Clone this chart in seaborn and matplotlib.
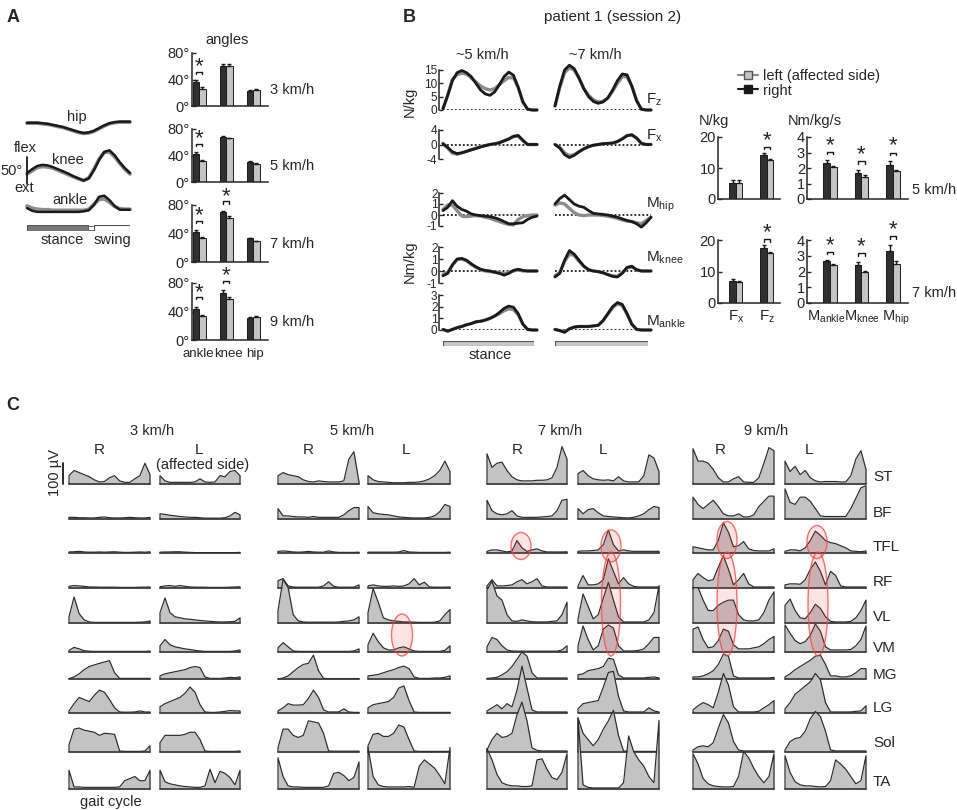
import numpy as np
import pandas as pd
import matplotlib
matplotlib.use("Agg")
import matplotlib.pyplot as plt
import matplotlib.transforms as mtransforms
import seaborn as sns
from matplotlib.patches import Ellipse
from matplotlib.lines import Line2D

W, H = 957, 810

# ----------------------------------------------------
# Panel A data: joint angle traces (deg, 0..100 % gait cycle, step 5 %)
# ----------------------------------------------------
cycle_pct = np.arange(0, 101, 5)
hip_right = [24, 24, 24, 23, 22, 20, 18, 16, 13, 10, 7, 5, 6, 9, 14, 19, 23, 25, 26, 26, 26]
hip_left = [23, 23, 23, 22, 21, 19, 17, 15, 12, 9, 6, 4, 5, 8, 13, 18, 22, 24, 25, 25, 25]
knee_right = [20, 27, 33, 35, 34, 31, 27, 23, 19, 14, 10, 6, 10, 25, 44, 59, 62, 53, 40, 29, 20]
knee_left = [18, 24, 30, 32, 31, 29, 25, 21, 17, 13, 9, 6, 11, 27, 46, 58, 59, 50, 38, 27, 18]
ankle_right = [7, 2, 0, 0, 0, 0, 0, 0, 0, 0, 0, 1, 3, 13, 28, 30, 22, 11, 4, 4, 4]
ankle_left = [11, 7, 5, 4, 4, 3, 3, 3, 3, 3, 3, 3, 5, 14, 23, 24, 18, 10, 6, 5, 5]
stance_end_pct = 59
swing_start_pct = 65

# angle ranges (deg) per speed
angle_speeds = ["3 km/h", "5 km/h", "7 km/h", "9 km/h"]
angle_joints = ["ankle", "knee", "hip"]
angle_right = [[36, 61, 23], [42, 68, 30], [42, 70, 33], [44, 66, 31]]
angle_left = [[25, 61, 24], [31, 66, 27], [33, 62, 29], [33, 58, 32]]
angle_right_err = [[3, 2, 1], [3, 2, 1], [3, 2, 1], [3, 4, 1]]
angle_left_err = [[3, 2, 1], [2, 1, 1], [2, 2, 1], [2, 3, 1]]
angle_sig = [[True, False, False], [True, False, False], [True, True, False], [True, True, False]]

# ----------------------------------------------------
# Panel B data: ground reaction forces and joint moments (0..100 % window)
# ----------------------------------------------------
kin_speeds = ["~5 km/h", "~7 km/h"]
fz_right = [[0.5, 5.5, 11, 14, 14.8, 14, 12.5, 10, 7.5, 6, 5.5, 6.8, 9.5, 12.5, 14.2, 13, 8.5, 3, 0.3, 0, 0],
            [1.5, 9, 15, 16.8, 15.5, 12, 8, 5, 3.2, 2.5, 3, 4.5, 7.5, 11, 13.5, 13.2, 9, 3.5, 0.3, 0, 0]]
fz_left = [[0.5, 5.5, 11.5, 13.3, 13.8, 13.5, 12, 10.5, 9, 8, 7.5, 8, 9.5, 11, 12.2, 12, 8.5, 3, 0.3, 0, 0],
           [1.5, 8.5, 14, 15.8, 15, 12, 8, 5.5, 3.8, 3, 3.3, 4.5, 7, 10, 12.5, 12.5, 9, 3.5, 0.3, 0, 0]]
fx_right = [[0.2, -0.8, -2, -2.5, -2.3, -1.9, -1.5, -1.1, -0.7, -0.3, 0, 0.2, 0.5, 1, 1.5, 2.2, 2.5, 1.2, 0, 0, 0],
            [0, -1, -2.8, -3.6, -3, -2, -1.2, -0.6, -0.2, 0, 0.2, 0.3, 0.4, 0.8, 1.5, 2.4, 2.7, 1.8, 0.3, 0, 0]]
fx_left = [[0.3, -1, -2.4, -2.7, -2.3, -1.9, -1.4, -1.0, -0.6, -0.3, 0, 0.2, 0.5, 1, 1.6, 2.3, 2.3, 1, 0, 0, 0],
           [0, -0.8, -2.3, -3.1, -2.8, -2, -1.2, -0.6, -0.2, 0, 0.2, 0.3, 0.4, 0.8, 1.6, 2.5, 2.6, 1.7, 0.3, 0, 0]]
mhip_right = [[0.4, 0.7, 1.3, 0.8, 0.5, 0.35, 0.1, 0, -0.05, -0.1, -0.15, -0.25, -0.4, -0.6, -0.8, -0.8, -0.75, -0.7, -0.4, -0.2, -0.1],
              [1, 1.5, 1.8, 1.4, 1.0, 0.8, 0.7, 0.4, 0.15, 0.1, 0.05, 0, -0.1, -0.2, -0.35, -0.5, -0.6, -0.8, -1.1, -0.7, -0.2]]
mhip_left = [[0.5, 0.9, 0.9, 0.4, -0.1, -0.15, -0.1, -0.05, -0.1, -0.2, -0.3, -0.45, -0.6, -0.75, -0.85, -0.9, -0.4, -0.15, -0.05, 0, 0],
             [0.9, 1.1, 1.0, 0.6, 0.2, 0, -0.05, 0, 0, 0, -0.05, -0.1, -0.2, -0.3, -0.45, -0.55, -0.6, -0.7, -0.8, -0.5, -0.2]]
mknee_right = [[-0.4, -0.2, 0.5, 1.0, 1.05, 0.9, 0.6, 0.35, 0.15, 0.05, 0, -0.1, -0.2, -0.35, -0.2, 0.05, 0.15, 0.05, 0, 0, 0],
               [-0.5, -0.2, 0.9, 1.7, 1.4, 0.9, 0.4, 0.1, 0, -0.05, -0.15, -0.3, -0.45, -0.5, -0.2, 0.3, 0.4, 0.1, 0, 0, 0]]
mknee_left = [[-0.3, -0.1, 0.5, 0.95, 1.0, 0.85, 0.55, 0.3, 0.1, 0, -0.05, -0.1, -0.15, -0.25, -0.1, 0.0, 0.1, 0.0, 0, 0, 0],
              [-0.4, -0.1, 0.8, 1.4, 1.3, 0.8, 0.4, 0.1, 0, -0.05, -0.15, -0.3, -0.4, -0.45, -0.15, 0.25, 0.35, 0.1, 0, 0, 0]]
mankle_right = [[0.05, -0.1, 0.05, 0.2, 0.3, 0.45, 0.55, 0.7, 0.75, 0.85, 1.0, 1.2, 1.5, 1.85, 2.05, 1.95, 1.4, 0.5, 0.05, 0, 0],
                [0.05, -0.05, -0.2, 0.1, 0.25, 0.3, 0.3, 0.3, 0.35, 0.4, 0.8, 1.4, 2.0, 2.35, 2.2, 1.4, 0.5, 0.05, 0, 0, 0]]
mankle_left = [[0.05, -0.1, 0.05, 0.2, 0.3, 0.45, 0.55, 0.7, 0.75, 0.85, 1.0, 1.2, 1.4, 1.65, 1.8, 1.75, 1.3, 0.5, 0.05, 0, 0],
               [0.05, -0.05, -0.15, 0.1, 0.25, 0.3, 0.3, 0.3, 0.35, 0.4, 0.8, 1.35, 1.9, 2.25, 2.1, 1.4, 0.5, 0.05, 0, 0, 0]]

bar_speeds = ["5 km/h", "7 km/h"]
force_names = ["Fx", "Fz"]
force_right = [[5.2, 14.3], [7.1, 17.5]]
force_left = [[5.2, 12.5], [6.7, 15.8]]
force_right_err = [[0.8, 0.5], [0.6, 0.8]]
force_left_err = [[0.8, 0.3], [0.3, 0.3]]
force_sig = [[False, True], [False, True]]
moment_names = ["ankle", "knee", "hip"]
moment_right = [[2.35, 1.7, 2.2], [2.65, 2.4, 3.3]]
moment_left = [[2.05, 1.45, 1.8], [2.4, 2.0, 2.45]]
moment_right_err = [[0.15, 0.2, 0.25], [0.05, 0.2, 0.4]]
moment_left_err = [[0.05, 0.1, 0.1], [0.1, 0.05, 0.2]]
moment_sig = [[True, True, True], [True, True, True]]

# ----------------------------------------------------
# Panel C data: EMG envelopes (uV), 17 samples over the gait cycle
# order: ST, BF, TFL, RF, VL, VM, MG, LG, Sol, TA
# ----------------------------------------------------
muscles = ["ST", "BF", "TFL", "RF", "VL", "VM", "MG", "LG", "Sol", "TA"]
emg_speeds = ["3 km/h", "5 km/h", "7 km/h", "9 km/h"]

emg_3_right = [
    [40, 65, 55, 45, 35, 20, 10, 12, 30, 40, 15, 8, 8, 25, 40, 100, 45],
    [8, 8, 6, 6, 5, 5, 8, 10, 6, 5, 5, 6, 8, 6, 5, 5, 8],
    [5, 6, 8, 5, 4, 4, 5, 4, 5, 6, 4, 3, 3, 4, 5, 4, 6],
    [8, 12, 10, 8, 5, 5, 4, 4, 4, 4, 3, 3, 3, 3, 4, 4, 5],
    [30, 125, 45, 15, 5, 3, 3, 3, 3, 3, 3, 3, 3, 3, 4, 5, 10],
    [8, 22, 15, 6, 4, 3, 3, 3, 3, 3, 3, 3, 3, 3, 3, 3, 5],
    [2, 10, 25, 45, 60, 68, 75, 82, 88, 30, 3, 3, 3, 3, 3, 3, 3],
    [10, 45, 75, 65, 55, 85, 110, 100, 65, 25, 5, 4, 4, 5, 10, 5, 5],
    [35, 110, 115, 105, 100, 95, 80, 90, 88, 85, 5, 3, 3, 3, 3, 5, 30],
    [90, 10, 10, 8, 8, 8, 8, 8, 8, 8, 10, 40, 50, 60, 40, 40, 90],
]
emg_3_left = [
    [40, 15, 8, 8, 8, 8, 8, 10, 25, 10, 8, 10, 40, 35, 60, 65, 40],
    [25, 22, 18, 15, 12, 10, 8, 8, 6, 4, 4, 4, 4, 6, 15, 32, 20],
    [4, 5, 5, 6, 6, 4, 3, 2, 2, 2, 2, 2, 2, 2, 2, 2, 3],
    [6, 10, 12, 8, 12, 8, 5, 4, 4, 4, 3, 3, 3, 3, 4, 5, 6],
    [50, 120, 50, 30, 25, 20, 18, 15, 12, 10, 8, 6, 5, 5, 6, 8, 25],
    [30, 60, 35, 25, 20, 15, 12, 8, 5, 3, 3, 3, 3, 3, 3, 5, 10],
    [15, 25, 30, 35, 40, 45, 55, 60, 55, 10, 3, 3, 3, 5, 8, 6, 10],
    [30, 45, 55, 65, 75, 95, 125, 100, 40, 5, 3, 3, 5, 8, 12, 10, 10],
    [45, 80, 80, 80, 80, 85, 95, 95, 60, 5, 3, 3, 3, 3, 3, 3, 5],
    [90, 35, 25, 20, 15, 12, 10, 8, 8, 15, 95, 30, 85, 75, 55, 20, 90],
]
emg_5_right = [
    [40, 55, 45, 40, 35, 20, 12, 10, 15, 12, 10, 10, 10, 15, 120, 155, 10],
    [50, 15, 15, 12, 10, 10, 8, 12, 8, 8, 8, 8, 8, 20, 40, 55, 55],
    [8, 10, 8, 5, 4, 5, 8, 5, 4, 4, 10, 5, 3, 3, 3, 3, 4],
    [35, 45, 10, 5, 4, 4, 4, 4, 4, 10, 30, 8, 4, 4, 4, 4, 15],
    [60, 210, 170, 40, 10, 5, 4, 4, 4, 4, 4, 4, 5, 8, 10, 15, 30],
    [20, 45, 25, 5, 3, 3, 3, 3, 3, 3, 3, 3, 3, 3, 3, 5, 15],
    [0, 5, 15, 35, 55, 70, 75, 115, 40, 3, 2, 2, 2, 2, 2, 2, 2],
    [10, 25, 45, 38, 38, 40, 70, 110, 75, 15, 5, 5, 5, 20, 5, 3, 3],
    [20, 110, 110, 80, 70, 80, 150, 145, 140, 90, 5, 4, 4, 4, 4, 4, 4],
    [150, 60, 15, 10, 10, 8, 8, 8, 8, 8, 15, 75, 80, 65, 40, 55, 130],
]
emg_5_left = [
    [40, 20, 12, 10, 8, 6, 6, 6, 8, 8, 10, 15, 25, 40, 65, 110, 60],
    [60, 30, 25, 22, 20, 15, 10, 8, 6, 5, 5, 5, 8, 15, 35, 70, 60],
    [4, 4, 4, 4, 4, 4, 5, 12, 5, 4, 3, 3, 3, 3, 3, 3, 4],
    [10, 15, 10, 8, 8, 10, 8, 10, 20, 45, 15, 28, 5, 4, 4, 4, 5],
    [50, 165, 100, 25, 15, 10, 8, 5, 5, 4, 3, 3, 3, 4, 10, 40, 65],
    [35, 90, 50, 20, 10, 10, 20, 25, 15, 5, 3, 3, 3, 3, 3, 8, 30],
    [15, 18, 22, 30, 38, 45, 55, 62, 50, 10, 3, 3, 3, 5, 5, 8, 15],
    [25, 40, 45, 50, 55, 75, 120, 130, 60, 5, 3, 3, 3, 3, 3, 3, 3],
    [30, 85, 90, 75, 75, 90, 130, 120, 60, 5, 3, 3, 3, 3, 3, 3, 3],
    [200, 60, 20, 12, 10, 10, 10, 10, 12, 8, 110, 140, 120, 100, 65, 25, 200],
]
emg_7_right = [
    [145, 80, 100, 105, 65, 35, 20, 15, 15, 15, 18, 18, 20, 30, 80, 180, 120],
    [90, 40, 25, 20, 25, 40, 15, 8, 8, 8, 8, 10, 12, 15, 40, 90, 95],
    [8, 15, 15, 10, 5, 10, 60, 25, 8, 15, 20, 10, 5, 5, 5, 5, 6],
    [10, 40, 10, 10, 12, 15, 30, 40, 20, 30, 45, 10, 5, 5, 5, 5, 5],
    [160, 200, 130, 110, 40, 10, 8, 15, 10, 6, 5, 5, 5, 8, 10, 40, 100],
    [25, 70, 60, 30, 10, 5, 4, 4, 4, 4, 4, 4, 4, 4, 4, 10, 30],
    [3, 5, 8, 20, 35, 60, 95, 130, 110, 30, 5, 5, 5, 5, 5, 5, 5],
    [10, 25, 40, 20, 45, 30, 110, 225, 120, 15, 5, 5, 5, 5, 5, 5, 5],
    [10, 60, 90, 70, 75, 90, 180, 240, 150, 20, 8, 5, 5, 5, 5, 5, 5],
    [195, 140, 70, 30, 20, 15, 15, 12, 12, 15, 140, 145, 95, 55, 45, 80, 170],
]
emg_7_left = [
    [50, 65, 40, 25, 20, 18, 20, 15, 35, 15, 10, 10, 10, 40, 140, 125, 60],
    [50, 25, 45, 50, 30, 15, 12, 10, 8, 6, 5, 8, 15, 25, 45, 60, 55],
    [8, 10, 10, 12, 15, 40, 110, 40, 10, 15, 10, 8, 8, 8, 8, 8, 8],
    [10, 60, 15, 15, 20, 40, 140, 80, 20, 50, 20, 8, 5, 5, 5, 5, 5],
    [20, 140, 80, 20, 40, 120, 195, 110, 30, 5, 5, 5, 5, 5, 15, 50, 180],
    [30, 125, 60, 10, 30, 110, 130, 115, 30, 5, 5, 5, 8, 15, 40, 70, 70],
    [20, 25, 40, 45, 50, 60, 100, 95, 20, 5, 5, 5, 5, 5, 8, 10, 5],
    [20, 45, 50, 55, 60, 125, 195, 200, 80, 10, 5, 5, 5, 5, 25, 10, 5],
    [165, 90, 60, 30, 60, 110, 150, 200, 80, 5, 3, 3, 3, 3, 3, 3, 3],
    [340, 20, 8, 5, 5, 5, 5, 5, 5, 30, 255, 180, 140, 110, 60, 30, 330],
]
emg_9_right = [
    [170, 110, 110, 100, 70, 30, 10, 10, 25, 35, 10, 8, 8, 30, 100, 175, 160],
    [105, 70, 50, 70, 90, 60, 25, 15, 15, 25, 10, 10, 20, 60, 85, 110, 110],
    [30, 25, 20, 15, 15, 60, 145, 100, 30, 35, 55, 20, 12, 10, 10, 10, 20],
    [40, 70, 50, 35, 40, 100, 155, 90, 15, 40, 70, 20, 5, 5, 5, 5, 5],
    [170, 170, 110, 60, 60, 85, 100, 110, 110, 40, 15, 10, 10, 15, 50, 110, 150],
    [110, 120, 60, 20, 25, 55, 110, 100, 35, 15, 15, 15, 20, 25, 40, 60, 75],
    [10, 10, 15, 25, 40, 70, 120, 110, 15, 5, 5, 5, 5, 5, 5, 5, 8],
    [15, 35, 50, 40, 25, 100, 190, 135, 30, 5, 5, 5, 5, 8, 25, 40, 60],
    [10, 25, 30, 25, 45, 115, 180, 140, 50, 10, 5, 5, 5, 5, 5, 5, 5],
    [170, 120, 50, 25, 15, 12, 10, 10, 12, 60, 180, 150, 100, 60, 30, 60, 170],
]
emg_9_left = [
    [110, 60, 85, 45, 65, 30, 15, 10, 12, 12, 12, 10, 10, 40, 120, 160, 70],
    [145, 80, 70, 105, 105, 85, 50, 15, 12, 12, 12, 12, 12, 50, 100, 150, 160],
    [8, 15, 15, 10, 25, 60, 105, 85, 60, 50, 45, 35, 25, 10, 8, 6, 10],
    [15, 20, 20, 18, 40, 90, 125, 80, 15, 80, 60, 10, 5, 5, 5, 5, 5],
    [85, 115, 60, 25, 20, 50, 90, 70, 30, 8, 5, 5, 5, 8, 25, 60, 110],
    [130, 90, 55, 40, 50, 80, 135, 100, 25, 10, 10, 10, 10, 12, 30, 60, 125],
    [10, 25, 45, 60, 75, 90, 110, 115, 70, 15, 15, 10, 10, 15, 30, 50, 50],
    [20, 50, 90, 110, 130, 150, 190, 160, 50, 5, 5, 5, 5, 5, 8, 10, 35],
    [10, 50, 65, 70, 100, 160, 195, 170, 100, 10, 5, 5, 5, 5, 5, 5, 5],
    [160, 80, 35, 20, 15, 15, 12, 10, 12, 40, 140, 120, 95, 60, 25, 40, 160],
]

# ----------------------------------------------------
# Styling / layout (pixels in a 957 x 810 canvas)
# ----------------------------------------------------
DARK = "#303030"
LIGHT = "#c4c4c4"
TRACE_GRAY = "#8c8c8c"
EMG_FILL = "#c3c3c3"

sns.set_theme(style="ticks")
plt.rcParams["font.family"] = ["Liberation Sans", "DejaVu Sans"]
plt.rcParams["mathtext.fontset"] = "custom"
plt.rcParams["mathtext.rm"] = "Liberation Sans"
plt.rcParams["mathtext.it"] = "Liberation Sans:italic"
plt.rcParams["axes.linewidth"] = 1.1
plt.rcParams["axes.unicode_minus"] = False

fig = plt.figure(figsize=(W / 100, H / 100), dpi=100)


def px_axes(x0, y0, x1, y1):
    return fig.add_axes([x0 / W, 1 - y1 / H, (x1 - x0) / W, (y1 - y0) / H])


def ftext(x, y, s, **kw):
    kw.setdefault("fontsize", 10.5)
    kw.setdefault("ha", "center")
    kw.setdefault("va", "center")
    fig.text(x / W, 1 - y / H, s, **kw)


def nudge_xlabels(ax, shifts_px):
    # shift individual x tick labels sideways so crowded labels do not collide
    for lbl, dx in zip(ax.get_xticklabels(), shifts_px):
        lbl.set_transform(lbl.get_transform()
                          + mtransforms.ScaledTranslation(dx / 100, 0, fig.dpi_scale_trans))


def paired_bars(ax, cats, right, left, right_err, left_err, sig, width, pad, tick, star_gap):
    n = len(cats)
    df = pd.DataFrame({"cat": cats * 2,
                       "side": ["right"] * n + ["left"] * n,
                       "value": list(right) + list(left)})
    sns.barplot(data=df, x="cat", y="value", hue="side", order=cats,
                hue_order=["right", "left"], palette={"right": DARK, "left": LIGHT},
                edgecolor="k", linewidth=0.7, width=width, legend=False, ax=ax)
    centers = sorted(p.get_x() + p.get_width() / 2 for p in ax.patches)
    xr, xl = centers[0::2], centers[1::2]
    ax.errorbar(xr, right, yerr=[np.zeros(n), right_err], fmt="none", ecolor="k",
                elinewidth=1.0, capsize=1.5, capthick=1.0)
    ax.errorbar(xl, left, yerr=[np.zeros(n), left_err], fmt="none", ecolor="k",
                elinewidth=1.0, capsize=1.5, capthick=1.0)
    for i in range(n):
        if sig[i]:
            yb = max(right[i] + right_err[i], left[i] + left_err[i]) + pad
            ax.plot([xr[i], xr[i], xl[i], xl[i]], [yb - tick, yb, yb, yb - tick],
                    color="k", lw=1.0, clip_on=False)
            ax.text((xr[i] + xl[i]) / 2, yb + star_gap, "*", ha="center", va="center",
                    fontsize=16, clip_on=False)
    ax.set_xlabel("")
    ax.set_ylabel("")
    sns.despine(ax=ax)
    ax.tick_params(axis="y", direction="in", length=3, width=1, labelsize=10.5, pad=1.5)
    ax.tick_params(axis="x", length=0, labelsize=10, pad=4)
    ax.set_facecolor("none")


# ----------------------------------------------------
# Panel A
# ----------------------------------------------------
ftext(13, 18, "A", fontsize=13, fontweight="bold")

DEG_PER_PX = 1.85
ax_k = px_axes(27, 105, 130, 220)
ax_k.set_xlim(0, 100)
ax_k.set_ylim(0, 115 * DEG_PER_PX)
ax_k.axis("off")
for right, left, offset in [(hip_right, hip_left, 156), (knee_right, knee_left, 67),
                            (ankle_right, ankle_left, 15)]:
    ax_k.plot(cycle_pct, np.array(left) + offset, color=TRACE_GRAY, lw=2.6, clip_on=False)
    ax_k.plot(cycle_pct, np.array(right) + offset, color="k", lw=1.8, clip_on=False)
ax_k.plot([0, 0], [67, 117], color="k", lw=1.3, clip_on=False)   # 50 deg scale

ftext(77, 117, "hip")
ftext(68, 160, "knee")
ftext(70, 200, "ankle")
ftext(25, 148, "flex")
ftext(12, 171, "50°")
ftext(24, 188, "ext")

ax_ph = px_axes(27, 225, 130, 231)
ax_ph.barh(0, stance_end_pct, left=0, height=1, color="#7a7a7a", edgecolor="#555", lw=0.8)
ax_ph.barh(0, swing_start_pct - stance_end_pct, left=stance_end_pct, height=0.6,
           color="white", edgecolor="#555", lw=0.6)
ax_ph.barh(0, 100 - swing_start_pct, left=swing_start_pct, height=1, color="white",
           edgecolor="#555", lw=0.8)
ax_ph.set_xlim(0, 100)
ax_ph.set_ylim(-0.5, 0.5)
ax_ph.axis("off")
ftext(62, 240, "stance")
ftext(112, 240, "swing")

ftext(227, 40, "angles")
angle_rows = [(53, 106), (129, 182), (205, 262), (283, 340)]
for k, (top, bottom) in enumerate(angle_rows):
    ax = px_axes(192, top, 268, bottom)
    paired_bars(ax, angle_joints, angle_right[k], angle_left[k], angle_right_err[k],
                angle_left_err[k], angle_sig[k], width=0.48, pad=13, tick=3, star_gap=7)
    ax.set_xlim(-0.26, 2.55)
    ax.set_ylim(0, 80)
    ax.set_yticks([0, 40, 80])
    ax.set_yticklabels(["0°", "40°", "80°"])
    if k < 3:
        ax.set_xticklabels([])
    else:
        ax.tick_params(axis="x", labelsize=9.5, pad=6)
        nudge_xlabels(ax, [-1, 2, 2])
    ftext(292, (top + bottom) / 2 + 10, angle_speeds[k])

# ----------------------------------------------------
# Panel B
# ----------------------------------------------------
ftext(409, 18, "B", fontsize=13, fontweight="bold")
ftext(613, 17, "patient 1 (session 2)", fontsize=11)

trace_cols = [(443, 537), (555, 651)]
trace_rows = [
    (fz_right, fz_left, (70, 110), (0, 15), [0, 5, 10, 15]),
    (fx_right, fx_left, (130, 159), (-4, 4), [-4, 0, 4]),
    (mhip_right, mhip_left, (193, 226), (-1, 2), [-1, 0, 1, 2]),
    (mknee_right, mknee_left, (247, 283), (-1, 2), [-1, 0, 1, 2]),
    (mankle_right, mankle_left, (295, 330), (0, 3), [0, 1, 2, 3]),
]
for c, (x0, x1) in enumerate(trace_cols):
    ftext((x0 + x1) / 2 - 8, 55, kin_speeds[c])
    for right, left, (top, bottom), lim, ticks in trace_rows:
        ax = px_axes(x0, top, x1, bottom)
        ax.axhline(0, color="k", ls=(0, (1, 1.2)), lw=1.3)
        ax.plot(cycle_pct, left[c], color=TRACE_GRAY, lw=2.4, clip_on=False)
        ax.plot(cycle_pct, right[c], color="k", lw=2.0, clip_on=False)
        ax.set_xlim(0, 100)
        ax.set_ylim(*lim)
        ax.set_facecolor("none")
        for s in ["top", "right", "bottom"]:
            ax.spines[s].set_visible(False)
        ax.set_xticks([])
        if c == 0:
            ax.set_yticks(ticks)
            ax.spines["left"].set_position(("outward", 3))
            ax.tick_params(axis="y", direction="in", length=3, width=1, labelsize=8.5, pad=1)
        else:
            ax.spines["left"].set_visible(False)
            ax.set_yticks([])
    ax_st = px_axes(x0, 341, x1 - 3, 346)
    ax_st.barh(0, 100, height=1, color="#c8c8c8", edgecolor="#555", lw=0.8)
    ax_st.set_xlim(0, 100)
    ax_st.set_ylim(-0.5, 0.5)
    ax_st.axis("off")
ftext(490, 355, "stance")
ftext(410, 102, "N/kg", rotation=90)
ftext(410, 262, "Nm/kg", rotation=90)
for lab, y in [(r"F$_\mathrm{z}$", 100), (r"F$_\mathrm{x}$", 136), (r"M$_\mathrm{hip}$", 205),
               (r"M$_\mathrm{knee}$", 258), (r"M$_\mathrm{ankle}$", 322)]:
    ftext(646, y, lab, ha="left", fontsize=11)

handles = [Line2D([], [], color="#888", lw=1.5, marker="s", ms=6, mfc=LIGHT, mec="#555"),
           Line2D([], [], color="k", lw=1.5, marker="s", ms=6, mfc="k", mec="k")]
fig.legend(handles, ["left (affected side)", "right"], loc="upper left",
           bbox_to_anchor=(732 / W, 1 - 63 / H), frameon=False, fontsize=10.5,
           handlelength=1.4, handletextpad=0.3, labelspacing=0.05, borderaxespad=0)

ftext(714, 121, "N/kg")
ftext(815, 121, "Nm/kg/s")
bar_rows = [(137, 199), (240, 303)]
for k, (top, bottom) in enumerate(bar_rows):
    ax = px_axes(718, top, 780, bottom)
    paired_bars(ax, force_names, force_right[k], force_left[k], force_right_err[k],
                force_left_err[k], force_sig[k], width=0.42, pad=2.0, tick=0.8, star_gap=2.0)
    ax.set_xlim(-0.58, 1.42)
    ax.set_ylim(0, 20)
    ax.set_yticks([0, 10, 20])
    if k == 0:
        ax.set_xticklabels([])
    else:
        ax.set_xticklabels([r"F$_\mathrm{x}$", r"F$_\mathrm{z}$"], fontsize=11)

    ax = px_axes(807, top, 908, bottom)
    paired_bars(ax, moment_names, moment_right[k], moment_left[k], moment_right_err[k],
                moment_left_err[k], moment_sig[k], width=0.42, pad=0.55, tick=0.16, star_gap=0.42)
    ax.set_xlim(-0.73, 2.48)
    ax.set_ylim(0, 4)
    ax.set_yticks([0, 1, 2, 3, 4])
    if k == 0:
        ax.set_xticklabels([])
    else:
        ax.set_xticklabels([r"M$_\mathrm{ankle}$", r"M$_\mathrm{knee}$", r"M$_\mathrm{hip}$"],
                           fontsize=10.5)
        nudge_xlabels(ax, [-4, 1, 3])
    ftext(912, (top + bottom) / 2 + 22, bar_speeds[k], ha="left")

# ----------------------------------------------------
# Panel C
# ----------------------------------------------------
ftext(13, 405, "C", fontsize=13, fontweight="bold")

UV100_PX = 20.8
emg_grid = np.linspace(0, 1, 17)
emg_cols = [
    (emg_3_right, 69, 150), (emg_3_left, 160, 240),
    (emg_5_right, 278, 359), (emg_5_left, 368, 450),
    (emg_7_right, 487, 567), (emg_7_left, 578, 659),
    (emg_9_right, 693, 774), (emg_9_left, 785, 866),
]
baselines = [484, 519, 553, 588, 623, 652, 679, 713, 752, 789]
label_y = [477, 513, 547, 582, 617, 648, 675, 708, 743, 782]

for ci, (data, x0, x1) in enumerate(emg_cols):
    for mi, base in enumerate(baselines):
        ax = px_axes(x0, base - UV100_PX, x1, base)
        vals = np.array(data[mi], dtype=float)
        ax.fill_between(emg_grid, vals, 0, color=EMG_FILL, lw=0, clip_on=False)
        ax.plot(np.r_[0, emg_grid, 1], np.r_[0, vals, 0], color="#2a2a2a", lw=0.85,
                clip_on=False)
        ax.plot([0, 1], [0, 0], color="#333", lw=1.2, clip_on=False)
        ax.set_xlim(0, 1)
        ax.set_ylim(0, 100)
        ax.axis("off")
        if ci == 0 and mi == 0:
            ax.plot([-0.07, -0.07], [0, 100], color="k", lw=1.3, clip_on=False)

for lab, y in zip(muscles, label_y):
    ftext(873, y, lab, ha="left", fontsize=11)
for lab, x in zip(emg_speeds, [152, 352, 560, 766]):
    ftext(x, 431, lab)
for lab, x in zip(["R", "L"] * 4, [99, 199, 308, 406, 517, 603, 720, 809]):
    ftext(x, 450, lab, fontsize=11)
ftext(203, 465, "(affected side)")
ftext(55, 473, "100 µV", rotation=90)
ftext(111, 802, "gait cycle")

# highlighted co-activation regions (pixel overlay)
ov = fig.add_axes([0, 0, 1, 1])
ov.set_xlim(0, W)
ov.set_ylim(H, 0)
ov.axis("off")
for cx, cy, w, h in [(402, 635, 21, 42), (521, 546, 20, 27), (611, 546, 20, 32),
                     (611, 604, 19, 104), (727, 540, 20, 37), (727, 604, 20, 104),
                     (817, 542, 20, 33), (818, 604, 20, 104)]:
    ov.add_patch(Ellipse((cx, cy), w, h, facecolor=(1, 0.2, 0.2, 0.13),
                         edgecolor=(1, 0.25, 0.25, 0.75), lw=1.0))

fig.savefig("out.png", dpi=100)
